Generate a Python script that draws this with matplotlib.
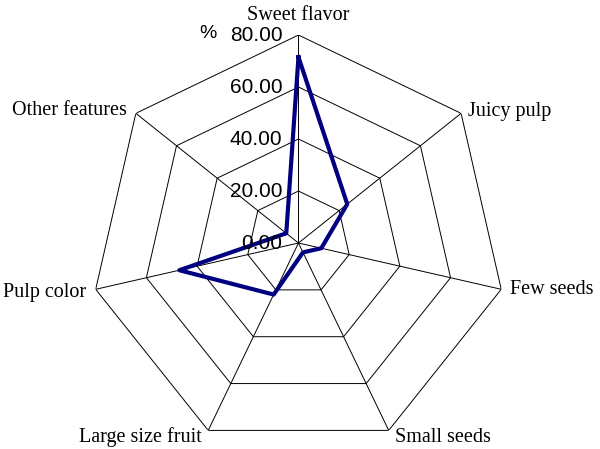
import numpy as np
import matplotlib.pyplot as plt

# 各項目と割合(%)
categories = ['Sweet flavor', 'Juicy pulp', 'Few seeds', 'Small seeds',
              'Large size fruit', 'Pulp color', 'Other features']
values = [71.5, 24.0, 9.0, 4.0, 22.0, 47.0, 6.0]
ring_levels = [0, 20, 40, 60, 80]
ring_labels = ['0.00', '20.00', '40.00', '60.00', '80.00']

n = len(categories)
angles = np.linspace(0, 2 * np.pi, n, endpoint=False)
angles_closed = np.append(angles, angles[0])

fig = plt.figure(figsize=(6, 4.49), dpi=100)
ax = fig.add_axes([0.1508, -0.0045, 0.6933, 0.9265], projection='polar')
ax.set_theta_zero_location('N')
ax.set_theta_direction(-1)
ax.set_ylim(0, 80)
ax.grid(False)
ax.spines['polar'].set_visible(False)
ax.set_xticks([])
ax.set_yticks([])
ax.patch.set_visible(False)

# 七角形の目盛り
for lv in ring_levels[1:]:
    ax.plot(angles_closed, [lv] * (n + 1), color='black', linewidth=0.7)
for a in angles:
    ax.plot([a, a], [0, 80], color='black', linewidth=0.7)

# データ
vals_closed = values + values[:1]
ax.plot(angles_closed, vals_closed, color='#000080', linewidth=3, zorder=5)

# 目盛りラベル
for lv, lab in zip(ring_levels, ring_labels):
    ax.annotate(lab, xy=(0, lv), xytext=(-16, 0), textcoords='offset pixels',
                ha='right', va='center', fontsize=15,
                family='Liberation Sans', zorder=6)
ax.annotate('%', xy=(0, 80), xytext=(-91, 2), textcoords='offset pixels',
            ha='center', va='center', fontsize=14, family='Liberation Sans')

# 項目ラベル
label_pos = [((0, 10), 'center', 'bottom'),
             ((7, 2), 'left', 'center'),
             ((9, 0), 'left', 'center'),
             ((6, -7), 'left', 'center'),
             ((-6, -7), 'right', 'center'),
             ((-10, -3), 'right', 'center'),
             ((-9, 3), 'right', 'center')]
for a, cat, (off, ha, va) in zip(angles, categories, label_pos):
    ax.annotate(cat, xy=(a, 80), xytext=off, textcoords='offset pixels',
                ha=ha, va=va, fontsize=14.5, family='Liberation Serif',
                annotation_clip=False)

fig.savefig('out.png', dpi=100)
